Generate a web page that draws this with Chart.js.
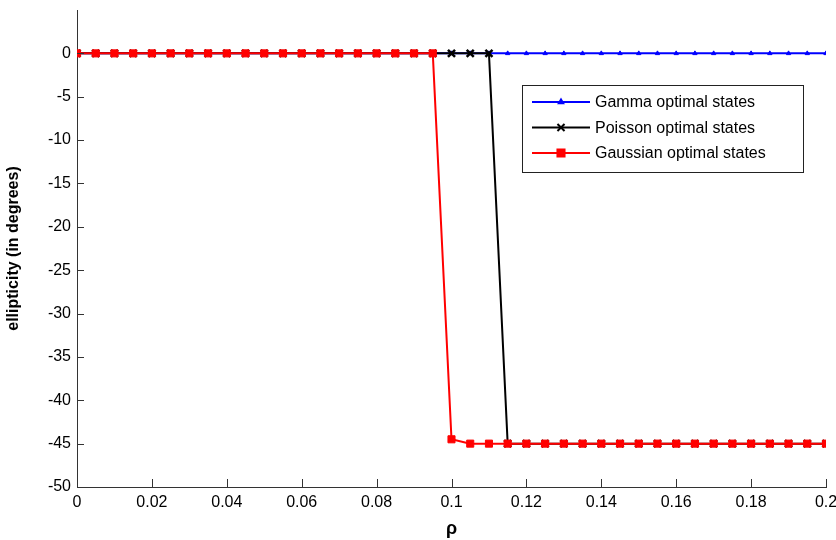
<!DOCTYPE html>
<html>
<head>
<meta charset="utf-8">
<script src="https://cdn.jsdelivr.net/npm/chart.js@4.4.1/dist/chart.umd.min.js"></script>
<style>
  html, body { margin: 0; padding: 0; background: #fff; }
  #wrap { width: 836px; height: 540px; }
</style>
</head>
<body>
<div id="wrap"><canvas id="chart"></canvas></div>
<script>
const rho = [0, 0.005, 0.01, 0.015, 0.02, 0.025, 0.03, 0.035, 0.04, 0.045,
             0.05, 0.055, 0.06, 0.065, 0.07, 0.075, 0.08, 0.085, 0.09, 0.095,
             0.1, 0.105, 0.11, 0.115, 0.12, 0.125, 0.13, 0.135, 0.14, 0.145,
             0.15, 0.155, 0.16, 0.165, 0.17, 0.175, 0.18, 0.185, 0.19, 0.195, 0.2];

const gamma = [0, 0, 0, 0, 0, 0, 0, 0, 0, 0,
               0, 0, 0, 0, 0, 0, 0, 0, 0, 0,
               0, 0, 0, 0, 0, 0, 0, 0, 0, 0,
               0, 0, 0, 0, 0, 0, 0, 0, 0, 0, 0];

const poisson = [0, 0, 0, 0, 0, 0, 0, 0, 0, 0,
                 0, 0, 0, 0, 0, 0, 0, 0, 0, 0,
                 0, 0, 0, -45, -45, -45, -45, -45, -45, -45,
                 -45, -45, -45, -45, -45, -45, -45, -45, -45, -45, -45];

const gaussian = [0, 0, 0, 0, 0, 0, 0, 0, 0, 0,
                  0, 0, 0, 0, 0, 0, 0, 0, 0, 0,
                  -44.5, -45, -45, -45, -45, -45, -45, -45, -45, -45,
                  -45, -45, -45, -45, -45, -45, -45, -45, -45, -45, -45];

const seriesNames = ['Gamma optimal states', 'Poisson optimal states', 'Gaussian optimal states'];

const xTicks = [0, 0.02, 0.04, 0.06, 0.08, 0.1, 0.12, 0.14, 0.16, 0.18, 0.2];
const yTicks = [0, -5, -10, -15, -20, -25, -30, -35, -40, -45, -50];

const FONT = '"Liberation Sans", Arial, sans-serif';

function pts(ys) {
  return rho.map((x, i) => ({x: x, y: ys[i]}));
}

// inward MATLAB style ticks
const innerTicks = {
  id: 'innerTicks',
  afterDatasetsDraw(chart) {
    const ctx = chart.ctx;
    const a = chart.chartArea;
    const xs = chart.scales.x, ys = chart.scales.y;
    ctx.save();
    ctx.strokeStyle = '#333';
    ctx.lineWidth = 1;
    ctx.beginPath();
    xTicks.forEach(v => {
      const px = Math.round(xs.getPixelForValue(v)) + 0.5;
      ctx.moveTo(px, a.bottom);
      ctx.lineTo(px, a.bottom - 8);
    });
    yTicks.forEach(v => {
      const py = Math.round(ys.getPixelForValue(v)) + 0.5;
      ctx.moveTo(a.left, py);
      ctx.lineTo(a.left + 7, py);
    });
    ctx.stroke();
    ctx.restore();
  }
};

// legend box inside the plot
const boxLegend = {
  id: 'boxLegend',
  afterDraw(chart) {
    const ctx = chart.ctx;
    const bx = 522, by = 85, bw = 281, bh = 87;
    ctx.save();
    ctx.fillStyle = '#fff';
    ctx.fillRect(bx, by, bw, bh);
    ctx.strokeStyle = '#222';
    ctx.lineWidth = 1;
    ctx.strokeRect(bx + 0.5, by + 0.5, bw, bh);
    ctx.font = '16px ' + FONT;
    ctx.textBaseline = 'middle';
    chart.data.datasets.forEach((ds, i) => {
      const y = by + 17 + i * 25.5;
      ctx.strokeStyle = ds.borderColor;
      ctx.fillStyle = ds.borderColor;
      ctx.lineWidth = 2;
      ctx.beginPath();
      ctx.moveTo(532, y);
      ctx.lineTo(590, y);
      ctx.stroke();
      Chart.helpers.drawPoint(ctx, {
        pointStyle: ds.pointStyle, radius: ds.pointRadius, rotation: 0,
        borderWidth: ds.pointBorderWidth
      }, 561, y);
      ctx.fillStyle = '#000';
      ctx.fillText(ds.label, 595, y + 1);
    });
    ctx.restore();
  }
};

const config = {
  type: 'line',
  data: {
    datasets: [{
      label: seriesNames[0],
      data: pts(gamma),
      borderColor: '#0000ff',
      backgroundColor: '#0000ff',
      pointBackgroundColor: '#0000ff',
      pointBorderColor: '#0000ff',
      pointStyle: 'triangle',
      pointRadius: 2.5,
      pointBorderWidth: 1,
      borderWidth: 2,
      order: 3
    }, {
      label: seriesNames[1],
      data: pts(poisson),
      borderColor: '#000000',
      backgroundColor: '#000000',
      pointBorderColor: '#000000',
      pointStyle: 'crossRot',
      pointRadius: 5,
      pointBorderWidth: 2.5,
      borderWidth: 2,
      order: 2
    }, {
      label: seriesNames[2],
      data: pts(gaussian),
      borderColor: '#ff0000',
      backgroundColor: '#ff0000',
      pointBackgroundColor: '#ff0000',
      pointBorderColor: '#ff0000',
      pointStyle: 'rect',
      pointRadius: 5,
      pointBorderWidth: 1,
      borderWidth: 2,
      order: 1
    }]
  },
  options: {
    responsive: true,
    maintainAspectRatio: false,
    animation: false,
    layout: {padding: {top: 10, right: 10, left: 0, bottom: 0}},
    plugins: {
      legend: {display: false},
      tooltip: {enabled: false}
    },
    scales: {
      x: {
        type: 'linear',
        min: 0, max: 0.2,
        afterBuildTicks: s => { s.ticks = xTicks.map(v => ({value: v})); },
        afterFit: s => { s.height = 53; s.paddingRight = 0; s.paddingLeft = 0; },
        grid: {display: false, drawTicks: false},
        border: {display: true, color: '#333', width: 1},
        ticks: {
          color: '#000', padding: 6,
          font: {family: FONT, size: 16},
          maxRotation: 0, autoSkip: false,
          callback: v => String(+v.toFixed(2))
        },
        title: {
          display: true, text: 'ρ', color: '#000', padding: {top: 0, bottom: 0},
          font: {family: FONT, size: 18, weight: 'bold'}
        }
      },
      y: {
        min: -50, max: 5,
        afterBuildTicks: s => { s.ticks = yTicks.map(v => ({value: v})); },
        afterFit: s => { s.width = 77; s.paddingTop = 0; s.paddingBottom = 0; },
        grid: {display: false, drawTicks: false},
        border: {display: true, color: '#333', width: 1},
        ticks: {
          color: '#000', padding: 6,
          font: {family: FONT, size: 16}
        },
        title: {
          display: true, text: 'ellipticity (in degrees)', color: '#000',
          padding: {top: 4, bottom: 4},
          font: {family: FONT, size: 16, weight: 'bold'}
        }
      }
    }
  },
  plugins: [innerTicks, boxLegend]
};

const myChart = new Chart(document.getElementById('chart'), config);
</script>
</body>
</html>
